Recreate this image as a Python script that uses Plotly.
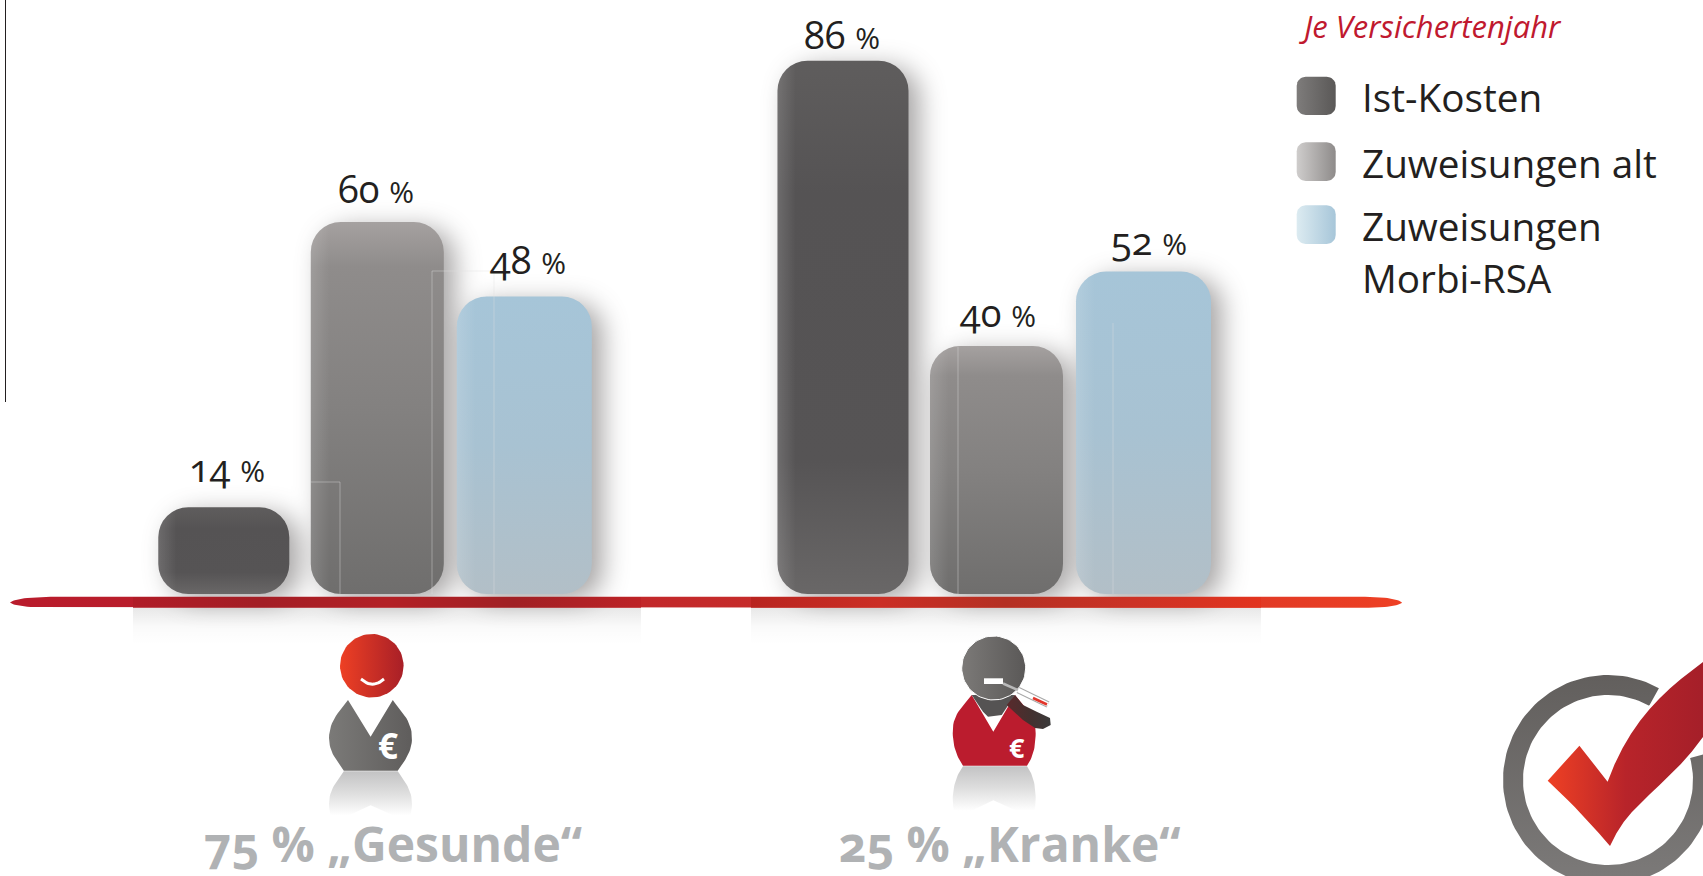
import math
import plotly.graph_objects as go

# ---------- data ----------
categories = ["75 % „Gesunde“", "25 % „Kranke“"]
series_names = ["Ist-Kosten", "Zuweisungen alt", "Zuweisungen<br>Morbi-RSA"]
ist_kosten = [14, 86]
zuweisungen_alt = [60, 40]
zuweisungen_morbi = [48, 52]

# ---------- layout constants (pixels) ----------
W, H = 1703, 876
BASE_Y = 594
PX_PER_UNIT = 6.2
group_center = [377.3, 996.5]
series_offset = [-153.5, 0, 147]
series_width = [131, 133, 135]
series_color = ["#565455", "#858382", "#a8c2d3"]
RADIUS_PX = 30
label_dx = [[3, -1], [-1, 1], [4, 5]]
label_dy = [[40, 27], [34, 34], [37, 32]]

fig = go.Figure()

# bars: an explicit base makes plotly round all four corners
for i, vals in enumerate([ist_kosten, zuweisungen_alt, zuweisungen_morbi]):
    xs = [c + series_offset[i] for c in group_center]
    fig.add_bar(x=xs, y=vals, base=0, width=series_width[i],
                marker=dict(color=series_color[i], cornerradius=RADIUS_PX, line_width=0),
                name=series_names[i], showlegend=False, hoverinfo="skip")


def blob(xs, ys, grad=None, color=None, line=None, lw=0):
    kw = dict(x=xs, y=ys, yaxis="y2", xaxis="x", mode="lines", fill="toself", hoverinfo="skip",
              showlegend=False, line=dict(width=lw, color=line or "rgba(0,0,0,0)"))
    if grad:
        kw["fillgradient"] = grad
        kw["fillcolor"] = None
    else:
        kw["fillcolor"] = color
    fig.add_trace(go.Scatter(**kw))


def stroke(xs, ys, color, w):
    fig.add_trace(go.Scatter(x=xs, y=ys, yaxis="y2", mode="lines", hoverinfo="skip", showlegend=False,
                             line=dict(color=color, width=w)))


def hgrad(x0, x1, stops):
    n = len(stops) - 1
    return dict(type="horizontal", start=x0, stop=x1, colorscale=[[k / n, c] for k, c in enumerate(stops)])


def vgrad(y0, y1, stops):
    n = len(stops) - 1
    return dict(type="vertical", start=y0, stop=y1, colorscale=[[k / n, c] for k, c in enumerate(stops)])


def bez(p0, p1, p2, p3, n=16):
    out = []
    for k in range(n + 1):
        t = k / n
        a = (1 - t) ** 3; b = 3 * t * (1 - t) ** 2; c = 3 * t * t * (1 - t); d = t ** 3
        out.append((a * p0[0] + b * p1[0] + c * p2[0] + d * p3[0], a * p0[1] + b * p1[1] + c * p2[1] + d * p3[1]))
    return out


def ellipse(cx, cy, rx, ry, n=72):
    xs = [cx + rx * math.cos(2 * math.pi * k / n) for k in range(n + 1)]
    ys = [cy + ry * math.sin(2 * math.pi * k / n) for k in range(n + 1)]
    return xs, ys


def round_rect(x0, y0, x1, y1, r):
    pts = []
    for cx, cy, a0 in [(x1 - r, y0 + r, -90), (x1 - r, y1 - r, 0), (x0 + r, y1 - r, 90), (x0 + r, y0 + r, 180)]:
        for k in range(9):
            a = math.radians(a0 + k * 90 / 8)
            pts.append((cx + r * math.cos(a), cy + r * math.sin(a)))
    pts.append(pts[0])
    return [p[0] for p in pts], [p[1] for p in pts]


def body_pts(bl, lb, tl, v, tr, rb, br):
    pts = []
    pts += bez(bl, (bl[0] - 7, bl[1] - 10), (lb[0], lb[1] + 14), lb)
    pts += bez(lb, (lb[0], lb[1] - 18), (tl[0] - 7, tl[1] + 10), tl)
    pts.append(v)
    pts += bez(tr, (tr[0] + 7, tr[1] + 10), (rb[0], rb[1] - 18), rb)
    pts += bez(rb, (rb[0], rb[1] + 14), (br[0] + 7, br[1] - 10), br)
    pts.append(bl)
    return pts


def body_and_reflection(pts, bottom, grad_body, depth=45):
    xs = [p[0] for p in pts]
    ys = [p[1] for p in pts]
    blob(xs, [min(2 * bottom - y + 0.5, bottom + depth) for y in ys],
         grad=vgrad(bottom, bottom + depth, ["#c2c2c3", "#dedede", "#ffffff"]))
    blob(xs, ys, grad=grad_body)


# ---------- baseline ----------
for sx0, sx1 in [(133, 641), (751, 1261)]:
    blob([sx0, sx1, sx1, sx0], [608, 608, 645, 645],
         grad=vgrad(608, 645, ["rgba(0,0,0,0.09)", "rgba(0,0,0,0.02)", "rgba(0,0,0,0)"]))
top = bez((10, 602.5), (13, 599), (30, 596.8), (55, 596.8)) + bez((1365, 596.8), (1385, 596.8), (1399, 599), (1402, 602.5))
bot = bez((1402, 602.5), (1399, 606), (1385, 607.8), (1365, 607.8)) + bez((55, 607.8), (30, 607.8), (13, 606), (10, 602.5))
pts = top + bot
blob([p[0] for p in pts], [p[1] for p in pts],
     grad=hgrad(10, 1402, ["#b91c2c", "#b91f2a", "#c42a2a", "#cf3228", "#ee4024"]))
blob([133, 641, 641, 133], [597, 597, 607.8, 607.8], grad=hgrad(133, 641, ["#b01c27", "#a31e25", "#b32025", "#a02024", "#bd2226"]))
blob([751, 1261, 1261, 751], [597, 597, 607.8, 607.8], grad=hgrad(751, 1261, ["#b8241f", "#cb2e25", "#b43023", "#cc3225", "#e2341f"]))

# ---------- healthy person ----------
pts = body_pts((343.8, 770.7), (329, 738), (348, 700), (370.6, 736.7), (392.8, 700), (412, 738), (397.7, 770.7))
body_and_reflection(pts, 770.7, hgrad(329, 412, ["#7b7a78", "#5f5d5c"]))
hx, hy = ellipse(371.8, 665.8, 31.8, 31.8)
blob(hx, hy, grad=hgrad(340, 403.6, ["#ee4024", "#a81f27"]))
smx = [361 + k * 23 / 16 for k in range(17)]
smy = [679 + 5.2 * (1 - ((x - 372.5) / 11.5) ** 2) for x in smx]
stroke(smx, smy, "#ffffff", 3)

# ---------- sick person ----------
pts = body_pts((963, 765.7), (952.7, 731), (971.7, 695), (993.3, 731.7), (1015, 695), (1035.7, 731), (1027, 765.7))
body_and_reflection(pts, 765.7, hgrad(952, 1036, ["#bb1c2e", "#bb1c2e"]))
blob([971.7, 983, 988, 1001.7, 1015, 971.7], [695, 711.7, 716.7, 715, 695, 695], color="#555353")
blob([1015, 1023, 1036.7, 1050, 1050.7, 1043, 1035, 1023, 1006.7, 1015],
     [695, 705, 711.7, 718, 725, 729, 728, 720, 705, 695],
     grad=hgrad(1006, 1051, ["#5a2a2c", "#45302f", "#3a3a3a"]))
hx, hy = ellipse(993.7, 668, 32, 32)
blob(hx, hy, grad=hgrad(961, 1026, ["#7c7a78", "#5a5857"]), line="#ffffff", lw=1)
blob([984, 1003, 1003, 984], [678.3, 678.3, 684, 684], color="#ffffff")
stroke([1003, 1018], [683.5, 690], "#b9b9b9", 2.5)
stroke([1018, 1048], [690, 704.5], "#a8a8a8", 6.5)
stroke([1018, 1048], [690, 704.5], "#ffffff", 4.5)
stroke([1033, 1047], [698, 704.5], "#e2352a", 2.5)

# ---------- check mark ----------
CX, CY, RO, RI = 1608, 780, 105, 85
angles = [61 + k * (314 / 120) for k in range(121)]
ox = [CX + RO * math.cos(math.radians(a)) for a in angles]
oy = [CY - RO * math.sin(math.radians(a)) for a in angles]
ix = [CX + RI * math.cos(math.radians(a)) for a in reversed(angles)]
iy = [CY - RI * math.sin(math.radians(a)) for a in reversed(angles)]
blob(ox + ix + ox[:1], oy + iy + oy[:1], grad=vgrad(675, 876, ["#625f5d", "#7b7978"]))
c = bez((1547.7, 780.7), (1572, 803), (1592, 825), (1610, 846), 10)
c += bez((1610, 846), (1630, 800), (1665, 790), (1703, 737), 10)[1:]
c += [(1703, 662)]
c += bez((1703, 662), (1665, 690), (1630, 720), (1607.6, 781.7), 10)[1:]
c += [(1579.4, 745.7), (1547.7, 780.7)]
stroke([p[0] for p in c], [p[1] for p in c], "#ffffff", 6)
blob([p[0] for p in c], [p[1] for p in c], grad=hgrad(1548, 1703, ["#ee4024", "#b8242a", "#a51f29"]))

# ---------- legend swatches ----------
swatch_y = [(76.7, 115), (142.3, 181), (205.3, 244)]
swatch_colors = [["#7e7c7b", "#5a5857"], ["#cfcdcc", "#8e8b8a"], ["#dcebf1", "#a7c6d9"]]
for (y0, y1), cols in zip(swatch_y, swatch_colors):
    sx, sy = round_rect(1296.7, y0, 1335.7, y1, 9)
    blob(sx, sy, grad=hgrad(1296.7, 1335.7, cols))

# ---------- annotations ----------
FONT = "Open Sans"
ann = []
for i, vals in enumerate([ist_kosten, zuweisungen_alt, zuweisungen_morbi]):
    for g, v in enumerate(vals):
        ann.append(dict(x=group_center[g] + series_offset[i] + label_dx[i][g], y=v, xref="x", yref="y",
                        yshift=label_dy[i][g],
                        text=f"{v} <span style='font-size:30px'>%</span>", showarrow=False,
                        font=dict(family=FONT, size=38, color="#231f20"), xanchor="center", yanchor="middle"))
for g, name in enumerate(categories):
    ann.append(dict(x=[393, 1009][g], y=843, xref="x", yref="y2", text=f"<b>{name}</b>", showarrow=False,
                    borderpad=0, font=dict(family=FONT, size=48, color="#b0b2b4"),
                    xanchor="center", yanchor="middle"))
legend_y = [97, 163, 226, 278]
legend_lines = ["Ist-Kosten", "Zuweisungen alt", "Zuweisungen", "Morbi-RSA"]
for t, y in zip(legend_lines, legend_y):
    ann.append(dict(x=1360, y=y, xref="x", yref="y2", text=t, showarrow=False, xanchor="left", yanchor="middle",
                    font=dict(family=FONT, size=38.7, color="#231f20")))
ann.append(dict(x=1297, y=26, xref="x", yref="y2", text="<i>Je Versichertenjahr</i>", showarrow=False,
                xanchor="left", yanchor="middle", font=dict(family=FONT, size=31, color="#c0192f")))
ann.append(dict(x=388, y=745, xref="x", yref="y2", text="<b>€</b>", showarrow=False,
                font=dict(family=FONT, size=35, color="#ffffff")))
ann.append(dict(x=1017, y=747, xref="x", yref="y2", text="<b>€</b>", showarrow=False,
                font=dict(family=FONT, size=27, color="#ffffff")))

# thin artefact lines seen in the reference
art = [(311, 482, 340, 482), (340, 482, 340, 594), (432, 271, 494, 271), (432, 271, 432, 594), (494, 271, 494, 594),
       (958, 347, 958, 594), (1113, 323, 1113, 594)]
shapes = [dict(type="line", xref="x", yref="y2", x0=a, y0=b, x1=c_, y1=d,
               line=dict(color="rgba(225,225,225,0.4)", width=1)) for a, b, c_, d in art]
shapes.append(dict(type="line", xref="paper", yref="y2", x0=5.5 / W, x1=5.5 / W, y0=0, y1=402,
                   line=dict(color="#231f20", width=1)))

fig.update_layout(
    width=W, height=H, margin=dict(l=0, r=0, t=0, b=0), paper_bgcolor="white", plot_bgcolor="white",
    barmode="overlay", showlegend=False, annotations=ann, shapes=shapes,
    xaxis=dict(range=[0, W], visible=False, domain=[0, 1], fixedrange=True),
    yaxis=dict(range=[-(H - BASE_Y) / PX_PER_UNIT, BASE_Y / PX_PER_UNIT], visible=False, domain=[0, 1], fixedrange=True),
    yaxis2=dict(range=[H, 0], visible=False, overlaying="y", anchor="x", fixedrange=True),
)

post = """
document.body.style.margin='0';
var gd=document.getElementById('{plot_id}');
var svg=gd.querySelector('svg.main-svg');
var NS='http://www.w3.org/2000/svg';
var defs=document.createElementNS(NS,'defs');svg.insertBefore(defs,svg.firstChild);
function grad(id,attrs,stops){var g=document.createElementNS(NS,'linearGradient');g.setAttribute('id',id);
 for(var k in attrs)g.setAttribute(k,attrs[k]);
 stops.forEach(function(s){var e=document.createElementNS(NS,'stop');e.setAttribute('offset',s[0]);e.setAttribute('stop-color',s[1]);if(s[2]!==undefined)e.setAttribute('stop-opacity',s[2]);g.appendChild(e);});
 defs.appendChild(g);}
grad('hl',{x1:0,x2:0.14,y1:0,y2:0},[[0,'#ffffff',0.14],[1,'#ffffff',0]]);
var stops=[[[0,'#5f5d5d'],[0.25,'#555354'],[0.75,'#565455'],[1,'#696767']],
           [[0,'#a5a1a0'],[0.12,'#8f8c8b'],[0.5,'#838180'],[1,'#6f6e6d']],
           [[0,'#a6c5d8'],[0.5,'#a8c2d2'],[1,'#b2bfc7']]];
var layer=gd.querySelector('.barlayer');
var groups=layer.querySelectorAll('.trace.bars');
for(var s=0;s<3;s++){
 var ps=groups[s].querySelectorAll('.point path');
 for(var j=0;j<ps.length;j++){
  var id='bg'+s+'_'+j;
  grad(id,{x1:0,x2:0,y1:0,y2:1},stops[s]);
  ps[j].style.fill='url(#'+id+')';
  var q=ps[j].cloneNode();q.style.fill='url(#hl)';ps[j].parentNode.appendChild(q);
 }
}
layer.style.filter='drop-shadow(11px 6px 13px rgba(60,55,55,0.45))';
gd.querySelectorAll('.annotation-text').forEach(function(t){t.style.fontFeatureSettings='"onum"';});
"""
fig.write_html("out.html", post_script=post, config=dict(displayModeBar=False))
